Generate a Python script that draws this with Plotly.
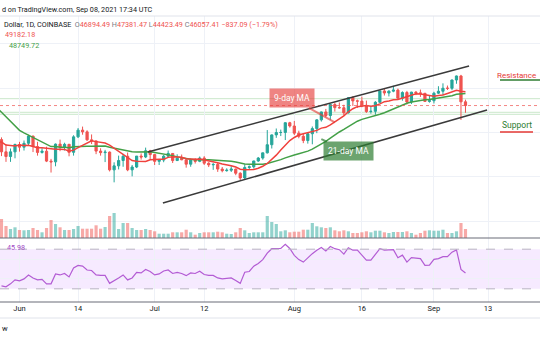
import pandas as pd
import plotly.graph_objects as go

# ---------------- data ----------------
dates = pd.date_range("2021-05-28", "2021-09-08", freq="D")

open_ = [38400, 35650, 34600, 35650, 37300, 36700, 37570, 39190, 36850, 35520,
         35800, 33570, 33400, 37390, 36700, 37340, 35550, 39020, 40530, 40140,
         38350, 38100, 35820, 35480, 35590, 31600, 32500, 33700, 34660, 31600,
         32240, 34700, 34500, 35900, 35040, 33520, 33800, 34680, 35290, 33690,
         34230, 33860, 32880, 33800, 33520, 34260, 33090, 32730, 32820, 31780,
         31420, 31520, 31780, 30840, 29790, 32140, 32290, 33600, 34260, 35430,
         37250, 39460, 40000, 40010, 42200, 41460, 39850, 39150, 38190, 39720,
         40870, 42840, 44620, 43820, 46280, 45590, 45560, 44420, 47830, 47100,
         47050, 45970, 44700, 44760, 46790, 49330, 48870, 49290, 49530, 47700,
         48980, 46850, 49070, 48900, 48800, 46990, 47140, 48830, 49270, 49950,
         49930, 51800, 52700, 46894.49]
high = [38900, 37300, 36400, 37500, 37900, 38200, 39480, 39290, 37900, 36480,
        36800, 34070, 37530, 38400, 37700, 37440, 39380, 41000, 41330, 40500,
        39560, 38200, 36450, 36100, 35740, 33300, 34800, 35200, 35500, 32700,
        34700, 35300, 36600, 36100, 35050, 33950, 34950, 35950, 35300, 35100,
        35050, 33900, 34100, 34250, 34600, 34680, 33330, 33120, 33190, 32250,
        31950, 32450, 31890, 31060, 32860, 32600, 33650, 34500, 35450, 40550,
        39550, 40900, 40650, 42300, 42400, 42600, 40400, 39800, 39970, 41350,
        43000, 44700, 45300, 46450, 46700, 46750, 46230, 47900, 48150, 47400,
        48050, 47170, 46000, 47050, 49350, 49800, 49500, 50500, 49870, 49250,
        49350, 49150, 49300, 49650, 48900, 48250, 49150, 50400, 51050, 50550,
        51900, 52800, 52950, 47381.47]
low = [34700, 33400, 33400, 34200, 35700, 35950, 37200, 35600, 34800, 35260,
       33350, 31000, 32400, 35800, 35950, 34650, 34800, 38750, 39500, 38100,
       37400, 35130, 34800, 33350, 31250, 28800, 31700, 32300, 31300, 30150,
       32000, 33900, 34250, 34050, 32700, 32700, 33320, 34400, 33150, 33600,
       33780, 32100, 32300, 33020, 33330, 32700, 32230, 31600, 31150, 31050,
       31200, 31130, 30400, 29300, 29480, 31700, 31900, 33400, 33880, 35280,
       36400, 38800, 39200, 38300, 41100, 39420, 38700, 37600, 37500, 37350,
       39850, 42450, 43400, 42850, 44700, 45350, 43800, 44260, 45980, 45520,
       45680, 44400, 44230, 43980, 46650, 48300, 48100, 49050, 47600, 47150,
       46300, 46400, 48400, 48000, 46900, 46700, 46520, 48650, 48400, 49550,
       49500, 50950, 42840, 44423.49]
close = [35650, 34600, 35650, 37300, 36700, 37570, 39190, 36850, 35520, 35800,
         33570, 33400, 37390, 36700, 37340, 35550, 39020, 40530, 40140, 38350,
         38100, 35820, 35480, 35590, 31600, 32500, 33700, 34660, 31600, 32240,
         34700, 34500, 35900, 35040, 33520, 33800, 34680, 35290, 33690, 34230,
         33860, 32880, 33800, 33520, 34260, 33090, 32730, 32820, 31780, 31420,
         31520, 31780, 30840, 29790, 32140, 32290, 33600, 34260, 35430, 37250,
         39460, 40000, 40010, 42200, 41460, 39850, 39150, 38190, 39720, 40870,
         42840, 44620, 43820, 46280, 45590, 45560, 44420, 47830, 47100, 47050,
         45970, 44700, 44760, 46790, 49330, 48870, 49290, 49530, 47700, 48980,
         46850, 49070, 48900, 48800, 46990, 47140, 48830, 49270, 49950, 49930,
         51800, 52700, 46894.49, 46057.41]
# volume, thousands of BTC
volume_k = [19, 12, 9, 10.7, 8, 7.7, 8, 10, 8, 5.7, 10, 18, 14, 10.7, 8, 8, 9, 12,
            9.3, 9.3, 9.3, 12.7, 9.3, 11, 22, 25, 9, 15, 15, 10, 8, 8, 9, 8, 6.7,
            4.3, 4.3, 4.3, 5.7, 5.7, 5.7, 8.3, 5.7, 3.3, 5, 5.7, 5.7, 5.7, 6.3,
            5.7, 4.3, 4, 5.7, 10, 7.7, 5, 5.7, 5.7, 5.7,
            22, 16, 14, 6.7, 7.7, 5.7, 6.3, 6.3, 8.3, 8.3, 15, 11.7, 10.7, 10,
            10.7, 7.7, 6.7, 7.7, 6.7, 5, 5, 5.7, 6.7, 5.7, 7.3, 7.3, 5.7, 5, 6,
            6, 6, 6.7, 5, 3.3, 5, 7.3, 7.7, 7.3, 7.3, 8.3, 5, 5, 6.7, 15, 9]
rsi = [33, 32, 35, 39, 38, 40, 44, 41, 39, 39.5, 35, 35, 45, 44, 45.5, 42, 51,
       53.6, 53, 49, 48.5, 44, 43.5, 43.5, 35.5, 38, 41, 44, 39, 41, 46.5, 46,
       49.5, 47.5, 44, 45, 48, 49, 45.5, 46.5, 45.5, 43.3, 46.1, 45.5, 47.8,
       44.4, 43.5, 43.5, 41, 40, 40.5, 41, 38.5, 35.5, 46.7, 47.5, 52.9, 55.6,
       59.5, 66, 70.5, 70.7, 70.7, 75, 70.7, 63.8, 59.5, 57, 61.5, 65.5, 69,
       71.7, 68.3, 72.7, 70.5, 69.5, 65, 71.5, 69, 69, 64, 59, 59, 65, 70.5,
       69, 69.5, 69.5, 61.4, 64, 57, 61.5, 61, 60.5, 53.6, 54, 59.7, 60.5,
       62.5, 62.5, 67, 69.3, 49.5, 45.98]
# closes before the visible range (used only to seed the moving averages)
warmup_dates = pd.date_range("2021-05-07", "2021-05-27", freq="D")
warmup_close = [57350, 58800, 58250, 55850, 56700, 49150, 49720, 49880, 46760,
                46450, 43540, 42900, 36720, 40600, 37300, 37530, 34700, 38800,
                38330, 39300, 38400]

tick_dates = ["2021-06-01", "2021-06-14", "2021-07-01", "2021-07-12",
              "2021-08-01", "2021-08-16", "2021-09-01", "2021-09-13"]
tick_text = ["Jun", "14", "Jul", "12", "Aug", "16", "Sep", "13"]

channel_upper = [("2021-06-29 12:00", 35618), ("2021-09-08 19:00", 54944)]
channel_lower = [("2021-07-02 20:00", 24157), ("2021-09-12 19:00", 45056)]
green_levels = [47600, 44540, 44090]
last_price = 46057.41

# ---------------- derived ----------------
all_dates = list(warmup_dates) + list(dates)
all_close = pd.Series(warmup_close + close, index=all_dates)
ma9 = all_close.rolling(9).mean()
ma21 = all_close.rolling(21).mean()
ma9 = ma9[ma9.index >= pd.Timestamp("2021-05-27")]
ma21 = ma21[ma21.index >= pd.Timestamp("2021-05-27")]

UP, DN = "#26a69a", "#ef5350"
vol_colors = ["rgba(38,166,154,0.5)" if c >= o else "rgba(239,83,80,0.5)"
              for o, c in zip(open_, close)]

W, H = 540, 340
def px(x):
    return x / W
def py(y):
    return 1 - y / H

FONT = "Roboto, 'Open Sans', sans-serif"

fig = go.Figure()
fig.add_trace(go.Bar(x=dates, y=volume_k, marker=dict(color=vol_colors, line_width=0),
                     xaxis="x", yaxis="y2", hoverinfo="skip"))
fig.add_trace(go.Candlestick(x=dates, open=open_, high=high, low=low, close=close,
                             increasing=dict(line=dict(color=UP, width=1), fillcolor=UP),
                             decreasing=dict(line=dict(color=DN, width=1), fillcolor=DN),
                             whiskerwidth=0, xaxis="x", yaxis="y"))
fig.add_trace(go.Scatter(x=ma21.index, y=ma21.values, mode="lines",
                         line=dict(color="#43a047", width=1.5), xaxis="x", yaxis="y"))
fig.add_trace(go.Scatter(x=ma9.index, y=ma9.values, mode="lines",
                         line=dict(color="#f0413c", width=1.5), xaxis="x", yaxis="y"))
fig.add_trace(go.Scatter(x=dates, y=rsi, mode="lines",
                         line=dict(color="#b35cd4", width=1.2), xaxis="x2", yaxis="y3"))

x_range = ["2021-05-27 16:05", "2021-09-24 13:00"]
grid = "#eef1f7"
fig.update_layout(
    width=W, height=H, margin=dict(l=0, r=0, t=0, b=0), autosize=False,
    paper_bgcolor="white", plot_bgcolor="white", showlegend=False,
    bargap=0.3, font=dict(family=FONT, color="#131722"),
    xaxis=dict(domain=[0, 1], anchor="y", range=x_range, type="date",
               tickvals=tick_dates, showticklabels=False, showgrid=True,
               gridcolor=grid, gridwidth=1, zeroline=False,
               rangeslider=dict(visible=False), fixedrange=True),
    xaxis2=dict(domain=[0, 1], anchor="y3", range=x_range, type="date",
                matches="x", tickvals=tick_dates, ticktext=tick_text,
                tickfont=dict(size=7.5, color="#131722"), ticks="",
                showgrid=True, gridcolor=grid, zeroline=False),
    yaxis=dict(domain=[py(238), py(16)], range=[16290, 66180], dtick=10000,
               tick0=0, showticklabels=False, showgrid=True, gridcolor=grid,
               zeroline=False),
    yaxis2=dict(overlaying="y", range=[0, 222], visible=False, showgrid=False),
    yaxis3=dict(domain=[py(302), py(238)], range=[16.7, 81.3], tickvals=[40, 60],
                showticklabels=False, showgrid=True, gridcolor=grid, zeroline=False),
)

shapes = []
# RSI band fill and dashed bands
shapes.append(dict(type="rect", xref="paper", yref="y3", x0=0, x1=1, y0=30, y1=70,
                   fillcolor="rgba(153,21,255,0.09)", line_width=0, layer="below"))
for lvl in (30, 70):
    shapes.append(dict(type="line", xref="paper", yref="y3", x0=0, x1=1, y0=lvl, y1=lvl,
                       line=dict(color="#b8b3c2", width=1, dash="dash")))
# horizontal levels on price pane
for lvl in green_levels:
    shapes.append(dict(type="line", xref="paper", yref="y", x0=0, x1=1, y0=lvl, y1=lvl,
                       line=dict(color="rgba(76,175,80,0.3)", width=1), layer="below"))
shapes.append(dict(type="line", xref="paper", yref="y", x0=0, x1=1, y0=last_price,
                   y1=last_price, line=dict(color="rgba(239,83,80,0.7)", width=1, dash="dot")))
# channel
for (d0, p0), (d1, p1) in (channel_upper, channel_lower):
    shapes.append(dict(type="line", xref="x", yref="y", x0=d0, y0=p0, x1=d1, y1=p1,
                       line=dict(color="#3a3a3a", width=1.5)))
# pane separators
shapes.append(dict(type="line", xref="paper", yref="paper", x0=0, x1=1, y0=py(16), y1=py(16),
                   line=dict(color="#e0e3eb", width=1)))
shapes.append(dict(type="line", xref="paper", yref="paper", x0=0, x1=1, y0=py(238), y1=py(238),
                   line=dict(color="#6a6d78", width=1.2)))
shapes.append(dict(type="line", xref="paper", yref="paper", x0=0, x1=1, y0=py(302), y1=py(302),
                   line=dict(color="#6a6d78", width=1.2)))
shapes.append(dict(type="line", xref="paper", yref="paper", x0=0, x1=1, y0=py(318), y1=py(318),
                   line=dict(color="#e0e3eb", width=1)))
# resistance / support underlines
shapes.append(dict(type="line", xref="paper", yref="paper", x0=px(500), x1=1, y0=py(80), y1=py(80),
                   line=dict(color="#2e7d32", width=1.5)))
shapes.append(dict(type="line", xref="paper", yref="paper", x0=px(500), x1=px(533),
                   y0=py(132), y1=py(132), line=dict(color="#e53935", width=1.5)))
fig.update_layout(shapes=shapes)

ann = []
def txt(x, y, text, size, color, xanchor="left", **kw):
    ann.append(dict(xref="paper", yref="paper", x=px(x), y=py(y), text=text,
                    showarrow=False, xanchor=xanchor, yanchor="middle",
                    font=dict(size=size, color=color, family=FONT), **kw))

# header / legend texts: only the parts visible inside the frame
txt(0, 9, "d on TradingView.com, Sep 08, 2021 17:34 UTC", 7.2, "#131722")
G, R = "#787b86", "#ef5350"
legend = ("Dollar, 1D, COINBASE  "
          f"<span style='color:{G}'>O</span><span style='color:{R}'>46894.49</span> "
          f"<span style='color:{G}'>H</span><span style='color:{R}'>47381.47</span> "
          f"<span style='color:{G}'>L</span><span style='color:{R}'>44423.49</span> "
          f"<span style='color:{G}'>C</span><span style='color:{R}'>46057.41</span> "
          f"<span style='color:{R}'>−837.09 (−1.79%)</span>")
txt(2, 25, legend, 7.2, "#131722")
txt(3, 35, "49182.18", 7.2, R)
txt(7, 46, "48749.72", 7.2, "#43a047")
txt(5, 247, "45.98", 7.2, "#a24bc6")
txt(0, 328, "w", 7.5, "#131722")
txt(538, 75, "Resistance", 8, "#e53935", xanchor="right")
txt(500, 125, "Support", 8.5, "#2e7d32")

# callouts
ann.append(dict(xref="x", yref="y", x="2021-08-10", y=42300, ax=-43, ay=-24,
                text="9-day MA", showarrow=True, arrowhead=0, arrowwidth=2,
                arrowcolor="rgba(229,57,53,0.62)", bgcolor="rgba(229,57,53,0.62)",
                borderpad=4, font=dict(size=8.5, color="white", family=FONT)))
ann.append(dict(xref="x", yref="y", x="2021-08-07", y=38500, ax=27, ay=12,
                text="21-day MA", showarrow=True, arrowhead=0, arrowwidth=2,
                arrowcolor="rgba(46,125,50,0.7)", bgcolor="rgba(46,125,50,0.7)",
                borderpad=4, font=dict(size=8.5, color="white", family=FONT)))
fig.update_layout(annotations=ann)

fig.write_html("out.html")
